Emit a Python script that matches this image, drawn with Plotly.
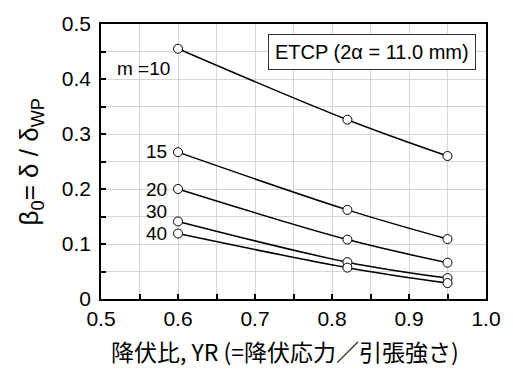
import plotly.graph_objects as go

yr = [0.6, 0.82, 0.95]
m_labels = ["m =10", "15", "20", "30", "40"]
beta_m10 = [0.455, 0.326, 0.260]
beta_m15 = [0.267, 0.162, 0.109]
beta_m20 = [0.200, 0.108, 0.066]
beta_m30 = [0.141, 0.067, 0.038]
beta_m40 = [0.119, 0.057, 0.029]
series = [beta_m10, beta_m15, beta_m20, beta_m30, beta_m40]
label_x = [0.592, 0.588, 0.588, 0.588, 0.588]
label_y = [0.419, 0.268, 0.200, 0.160, 0.119]

FONT = "Liberation Sans"

fig = go.Figure()
for ys in series:
    fig.add_trace(go.Scatter(
        x=yr, y=ys, mode="lines+markers", line=dict(color="black", width=1.5, shape="spline"),
        marker=dict(symbol="circle", size=9, color="white", line=dict(color="black", width=1)),
        showlegend=False, hoverinfo="skip"))

for lab, lx, ly in zip(m_labels, label_x, label_y):
    fig.add_annotation(x=lx, y=ly, text=lab, showarrow=False, xanchor="right",
                       yanchor="middle", font=dict(size=19, color="black", family=FONT))

fig.add_annotation(x=0.987, y=0.449, xref="x", yref="y", text="ETCP (2\u03b1 = 11.0 mm)",
                   showarrow=False, xanchor="right", yanchor="middle",
                   font=dict(size=20, color="black", family=FONT),
                   bordercolor="#333333", borderwidth=1, borderpad=6, bgcolor="white")

fig.add_annotation(xref="paper", yref="paper", x=-0.182, y=0.5, xanchor="center", yanchor="middle",
                   text="\u03b2<sub>0</sub>= \u03b4 / \u03b4<sub>WP</sub>", textangle=-90, showarrow=False,
                   font=dict(size=26, color="black", family=FONT))

fig.add_annotation(xref="paper", yref="paper", x=0.478, y=-0.19, xanchor="center", yanchor="middle",
                   text="降伏比, YR (=降伏応力／引張強さ)", showarrow=False, borderpad=0,
                   font=dict(size=23, color="black", family="Noto Sans CJK JP"))

axis_common = dict(showline=True, linecolor="black", linewidth=1.5, mirror=True,
                   ticks="inside", ticklen=5, tickcolor="black", tickwidth=1.5,
                   showgrid=True, gridcolor="#d6d6d6", gridwidth=1, zeroline=False,
                   tickfont=dict(size=21, color="black", family=FONT),
                   minor=dict(dtick=0.05, ticks="inside", ticklen=5, tickcolor="black",
                              tickwidth=1.5, showgrid=True, gridcolor="#d6d6d6", gridwidth=1))

fig.update_xaxes(range=[0.5, 1.0], dtick=0.1, tick0=0.5, tickformat=".1f", **axis_common)
fig.update_yaxes(range=[0, 0.5], dtick=0.1, tick0=0, ticklabelstandoff=4,
                 tickvals=[0, 0.1, 0.2, 0.3, 0.4, 0.5], ticktext=["0", "0.1", "0.2", "0.3", "0.4", "0.5"],
                 **axis_common)

fig.update_layout(width=513, height=369, margin=dict(l=101, r=20, t=21, b=70),
                  plot_bgcolor="white", paper_bgcolor="white", font=dict(family=FONT))

fig.write_html("out.html")
